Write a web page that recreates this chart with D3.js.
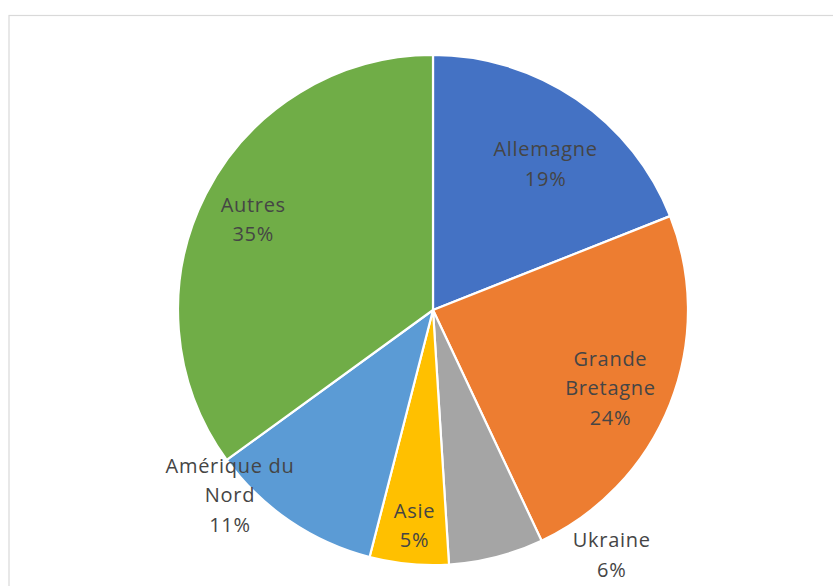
<!DOCTYPE html>
<html><head><meta charset="utf-8">
<script src="https://cdn.jsdelivr.net/npm/d3@7"></script>
<style>html,body{margin:0;padding:0;background:#fff;}svg{display:block;}</style>
</head><body>
<svg id="chart" width="833" height="586"></svg>
<script>
const categories = ["Allemagne", "Grande Bretagne", "Ukraine", "Asie", "Amérique du Nord", "Autres"];
const values = [19, 24, 6, 5, 11, 35];
const colors = ["#4472C4", "#ED7D31", "#A5A5A5", "#FFC000", "#5B9BD5", "#70AD47"];
const labelLines = [["Allemagne"], ["Grande", "Bretagne"], ["Ukraine"], ["Asie"], ["Amérique du", "Nord"], ["Autres"]];
// label placement: radius factor and angle (deg) offset from slice mid-angle
const labelLayout = [
  {k: 0.72, dA: 3.5}, {k: 0.76, dA: 2.4}, {k: 1.19, dA: -21.6},
  {k: 0.85, dA: -0.4}, {k: 1.08, dA: 13.4}, {k: 0.79, dA: -0.4}
];

const W = 833, H = 586, cx = 433, cy = 310, R = 255;
const svg = d3.select("#chart");
svg.append("rect").attr("x", 9).attr("y", 15.5).attr("width", 840).attr("height", 600)
  .attr("fill", "#fff").attr("stroke", "#d9d9d9").attr("stroke-width", 1.2);

const data = categories.map((c, i) => ({cat: c, value: values[i], i}));
const pie = d3.pie().value(d => d.value).sort(null).startAngle(0).endAngle(2 * Math.PI);
const arcs = pie(data);
const arc = d3.arc().innerRadius(0).outerRadius(R);
const g = svg.append("g").attr("transform", `translate(${cx},${cy})`);
g.selectAll("path").data(arcs).join("path")
  .attr("d", arc).attr("fill", d => colors[d.data.i])
  .attr("stroke", "#fff").attr("stroke-width", 2.2).attr("stroke-linejoin", "round");

const lineH = 29.5;
arcs.forEach(a => {
  const L = labelLayout[a.data.i];
  const ang = (a.startAngle + a.endAngle) / 2 + L.dA * Math.PI / 180;
  const r = R * L.k;
  const x = r * Math.sin(ang), y = -r * Math.cos(ang);
  const lines = labelLines[a.data.i].concat([d3.format(".0%")(a.value / d3.sum(values))]);
  const t = g.append("text").attr("text-anchor", "middle")
    .attr("font-family", "'Open Sans', Lato, sans-serif").attr("font-size", 20)
    .attr("letter-spacing", 0.7).attr("fill", "#454545");
  lines.forEach((ln, j) => {
    t.append("tspan").attr("x", x + 0.35)
      .attr("y", y + (j - (lines.length - 1) / 2) * lineH + 6.5).text(ln);
  });
});
</script>
</body></html>
